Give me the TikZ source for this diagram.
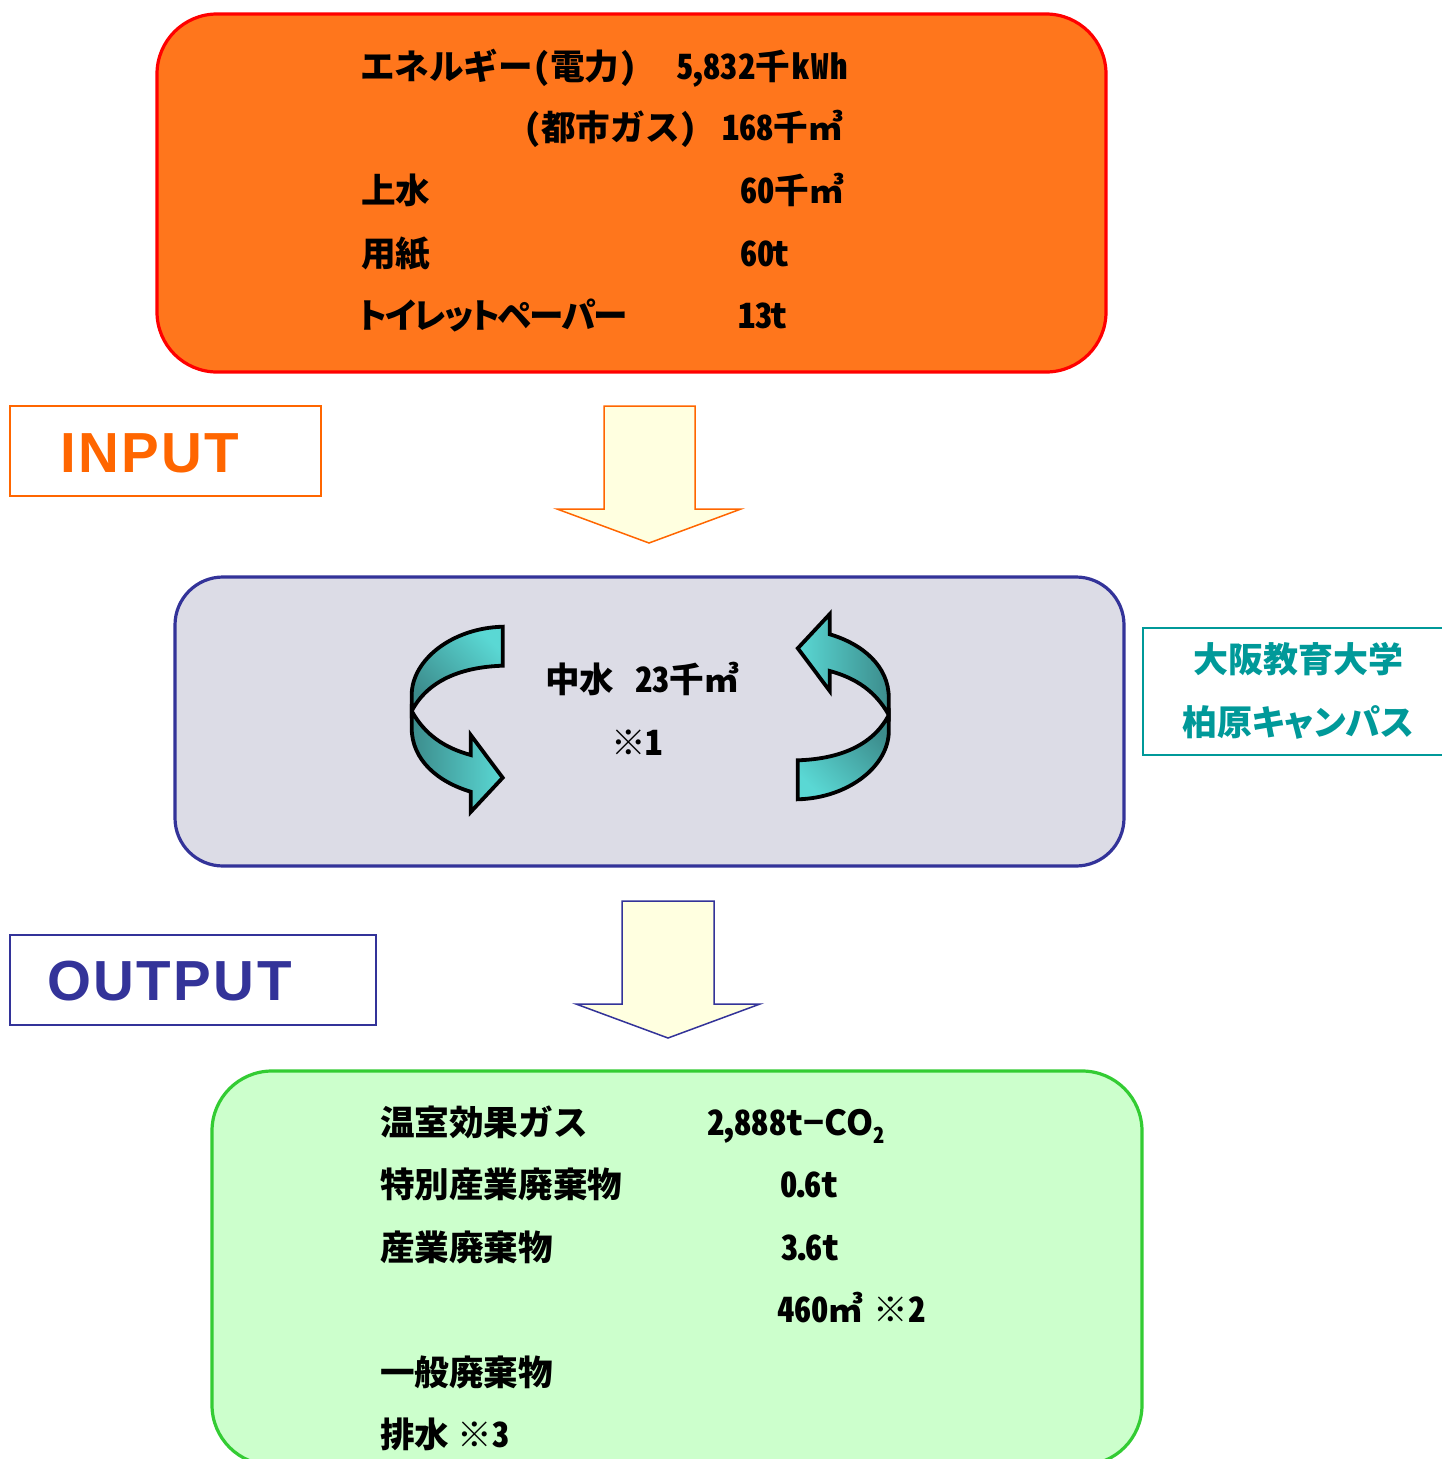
\documentclass[tikz,border=0pt]{standalone}
\usepackage{fontspec}
\setmainfont{Noto Sans CJK JP}[RawFeature=+hwid]
\newfontfamily\propfont{Noto Sans CJK JP}[RawFeature=+palt,LetterSpace=-5.8]
\newfontfamily\tealprop{Noto Sans CJK JP}[RawFeature=+palt]
\newfontfamily\plainfont{Noto Sans CJK JP}
\newfontfamily\labelfont{Liberation Sans}[LetterSpace=4.4]
\usetikzlibrary{shapes.geometric}
\definecolor{orangefill}{HTML}{FF761C}
\definecolor{inorange}{HTML}{FF6600}
\definecolor{navyline}{HTML}{333399}
\definecolor{greyfill}{HTML}{DCDCE6}
\definecolor{greenfill}{HTML}{CCFFCC}
\definecolor{greenline}{HTML}{33CC33}
\definecolor{arrowfill}{HTML}{FFFFE0}
\definecolor{tealtext}{HTML}{009999}
\definecolor{tlight}{HTML}{5AD8D4}
\definecolor{tdark}{HTML}{3C8C8C}
\tikzset{
  x=1pt,y=-1pt,
  panel/.style={rounded corners=#1,line width=3.2pt},
  tag/.style={line width=1.5pt,fill=white},
  blockarrow/.style={line width=1.5pt,fill=arrowfill,line join=miter},
  txt/.style={anchor=base west,inner sep=0pt,outer sep=0pt,font=\fontsize{34.6}{40}\selectfont\bfseries,text=black},
  tealtxt/.style={anchor=base,inner sep=0pt,outer sep=0pt,font=\fontsize{35}{40}\selectfont\bfseries,text=tealtext},
  biglabel/.style={anchor=base west,inner sep=0pt,outer sep=0pt,font=\labelfont\fontsize{56.5}{60}\selectfont\bfseries},
  curlline/.style={line width=3.8pt,draw=black,line join=miter},
}
\newcommand{\upperband}{(502.7,626.7) .. controls (452,628) and (411.7,660) .. (411.7,695) -- (411.7,711) .. controls (428,680) and (462,667) .. (502.7,665.7) -- cycle}
\newcommand{\lowerband}{(411.7,711) -- (411.7,728) .. controls (411.7,760) and (438,782) .. (470.7,791.7) -- (470.7,812) -- (502.7,777.7) -- (470.7,735) -- (470.7,755) .. controls (445,748) and (425,735) .. (411.7,711) -- cycle}
\begin{document}
\begin{tikzpicture}
\useasboundingbox (0,0) rectangle (1442,1459);
\clip (0,0) rectangle (1442,1459);
\fill[white] (0,0) rectangle (1442,1459);

% panels
\draw[panel=60pt,draw=red,fill=orangefill] (157,14) rectangle (1106,372);
\draw[panel=48pt,draw=navyline,fill=greyfill] (175,577) rectangle (1124,866);
\draw[panel=60pt,draw=greenline,fill=greenfill] (212,1071) rectangle (1142,1465);

% tags
\draw[tag,draw=inorange] (10,406) rectangle (321,496);
\draw[tag,draw=navyline] (10,935) rectangle (376,1025);
\draw[tag,draw=tealtext] (1143,628) rectangle (1460,755);
\node[biglabel,text=inorange] (input) at (60,472) {INPUT};
\node[biglabel,text=navyline] (output) at (47,1000) {OUTPUT};
\node[tealtxt] (campus1) at (1298,672) {大阪教育大学};
\node[tealtxt] (campus2) at (1298,735) {\tealprop 柏原キャンパス};

% block arrows
\draw[blockarrow,draw=inorange] (604,406) -- (695,406) -- (695,509) -- (741,509) -- (649,543) -- (557,509) -- (604,509) -- cycle;
\draw[blockarrow,draw=navyline] (622,901) -- (714,901) -- (714,1004) -- (760,1004) -- (668,1038) -- (576,1004) -- (622,1004) -- cycle;

% left curl
\shade[top color=tlight,bottom color=tdark,shading angle=-45] \upperband;
\shade[left color=tdark,right color=tlight] \lowerband;
\draw[curlline] \upperband;
\draw[curlline] \lowerband;

% right curl (point reflection of the left one)
\begin{scope}[shift={(1300.5,1426)},xscale=-1,yscale=-1]
\shade[top color=tlight,bottom color=tdark,shading angle=135] \upperband;
\shade[left color=tlight,right color=tdark] \lowerband;
\draw[curlline] \upperband;
\draw[curlline] \lowerband;
\end{scope}

% input texts
\node[txt] (i1a) at (360,79) {エネルギー（電力）};
\node[txt] (i1b) at (676,79) {5\kern-0.1em,\kern-0.1em 832千\kern0.08em k\kern0.05em W\kern0.05em h};
\node[txt] (i2a) at (524,140) {（都市ガス）};
\node[txt] (i2b) at (722,140) {168千㎥};
\node[txt] (i3a) at (361,203) {上水};
\node[txt] (i3b) at (740,203) {60千㎥};
\node[txt] (i4a) at (361,266) {用紙};
\node[txt] (i4b) at (740,266) {60\kern-0.05em t};
\node[txt] (i5a) at (358,328) {\propfont トイレットペーパー};
\node[txt] (i5b) at (738,328) {13\kern-0.05em t};

% middle texts
\node[txt] (m1) at (545,692) {\makebox[90pt][l]{中水}23千㎥};
\node[txt] (m2) at (611,755) {※1};

% output texts
\node[txt] (o1a) at (380,1135) {温室効果ガス};
\node[txt] (o1b) at (707,1135) {2\kern-0.1em,\kern-0.1em 888t{\plainfont −CO}\raisebox{-0.25em}{\fontsize{22}{22}\selectfont 2}};
\node[txt] (o2a) at (380,1197) {特別産業廃棄物};
\node[txt] (o2b) at (780,1197) {0\kern-0.15em.\kern-0.15em 6t};
\node[txt] (o3a) at (380,1260) {産業廃棄物};
\node[txt] (o3b) at (781,1260) {3\kern-0.15em.\kern-0.15em 6t};
\node[txt] (o4b) at (777,1322) {460㎥\kern0.3em ※2};
\node[txt] (o5a) at (380,1385) {一般廃棄物};
\node[txt] (o6a) at (380,1447) {排水\kern0.25em ※3};
\end{tikzpicture}
\end{document}
